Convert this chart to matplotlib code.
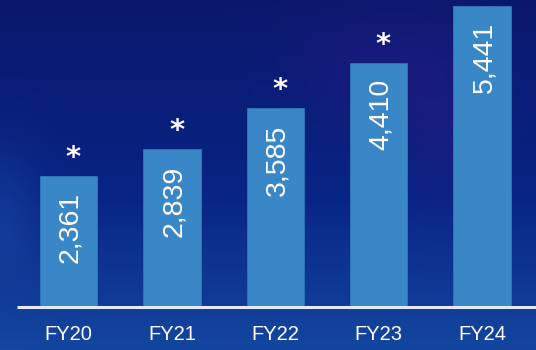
import numpy as np
import matplotlib
matplotlib.use("Agg")
import matplotlib.pyplot as plt

years = ["FY20", "FY21", "FY22", "FY23", "FY24"]
values = [2361, 2839, 3585, 4410, 5441]
value_labels = ["2,361", "2,839", "3,585", "4,410", "5,441"]
flags = ["*", "*", "*", "*", ""]

W, H, DPI = 536, 350, 100
fig = plt.figure(figsize=(W / DPI, H / DPI), dpi=DPI)

# Background: navy gradient with soft purple glow
bg = fig.add_axes([0, 0, 1, 1])
bg.set_axis_off()
yy, xx = np.mgrid[0:H, 0:W]
t = yy / (H - 1)
top = np.array([0x0a, 0x18, 0x6c]) / 255
mid = np.array([0x08, 0x24, 0x84]) / 255
bot = np.array([0x14, 0x46, 0xa0]) / 255
t3 = t[..., None]
img = np.where(t3 < 0.55,
               top + (mid - top) * (t3 / 0.55),
               mid + (bot - mid) * ((t3 - 0.55) / 0.45))
def glow(cx, cy, rx, ry, color, amt):
    g = np.exp(-(((xx - cx) / rx) ** 2 + ((yy - cy) / ry) ** 2))[..., None]
    return g * amt * (np.array(color) / 255 - img)
img = img + glow(380, 70, 80, 60, (0x26, 0x1a, 0x82), 0.5)
img = img + glow(440, 120, 40, 80, (0x26, 0x1a, 0x82), 0.4)
img = img + glow(0, 220, 40, 70, (0x1a, 0x48, 0xa4), 0.5)
img = np.clip(img, 0, 1)
bg.imshow(img, extent=(0, W, H, 0), aspect="auto", interpolation="bilinear")
bg.set_xlim(0, W)
bg.set_ylim(H, 0)

# Bar chart
base_px = 306
ax = fig.add_axes([0, (H - base_px) / H, 1, base_px / H])
ax.patch.set_alpha(0)
step = 103.4
x0 = 68.5
px_per_unit = 300 / 5441
ax.set_xlim(-x0 / step, (W - x0) / step)
ax.set_ylim(0, base_px / px_per_unit)

x = np.arange(len(years))
bar_color = "#3a87c8"
ax.bar(x, values, width=0.555, color=bar_color, edgecolor="#2f76b8", linewidth=0.6)

for xi, v, lab, f in zip(x, values, value_labels, flags):
    ax.text(xi + 0.02, v - 16 / px_per_unit, lab, rotation=90, ha="center", va="top",
            color="white", fontsize=20.5, family="Liberation Sans")
    if f:
        ax.text(xi + 0.045, v + 18 / px_per_unit, f, ha="center", va="center",
                color="white", fontsize=21, fontweight="bold", family="DejaVu Sans")

# Baseline
bg.plot([17, W], [base_px + 0.5, base_px + 0.5], color="#e3e8f2", linewidth=2.2,
        solid_capstyle="butt")

ax.set_xticks(x)
ax.set_xticklabels(years, color="white", fontsize=14.5, family="Liberation Sans")
ax.tick_params(axis="x", length=0, pad=14)
ax.set_yticks([])
for s in ax.spines.values():
    s.set_visible(False)

fig.savefig("out.png", dpi=DPI)
